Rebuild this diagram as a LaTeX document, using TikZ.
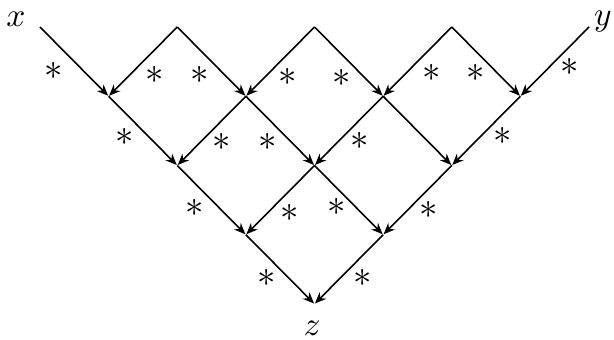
\documentclass[tikz,border=0pt]{standalone}
\usetikzlibrary{arrows.meta}
\begin{document}
\begin{tikzpicture}[x=0.3pt,y=-0.3pt,
  edge/.style={-{Stealth[length=3.4pt,width=2.8pt]}, line width=0.48pt, shorten >=0.2pt},
  lbl/.style={inner sep=0pt},
  st/.style={inner sep=0pt, scale=1.1}]
\useasboundingbox (0,0) rectangle (614,339);
\foreach \i/\j in {0/0,2/0,4/0,6/0,8/0,1/1,3/1,5/1,7/1,2/2,4/2,6/2,3/3,5/3,4/4}
  \coordinate (v\i\j) at ({40+68.625*\i},{27+69.25*\j});
% labels
\node[lbl] (lx) at (16,19) {$x$};
\node[lbl] (ly) at (603,22) {$y$};
\node[lbl] (lz) at (312,328) {$z$};
% row 0 -> 1
\draw[edge] (v00) -- (v11);
\draw[edge] (v20) -- (v11);
\draw[edge] (v20) -- (v31);
\draw[edge] (v40) -- (v31);
\draw[edge] (v40) -- (v51);
\draw[edge] (v60) -- (v51);
\draw[edge] (v60) -- (v71);
\draw[edge] (v80) -- (v71);
% row 1 -> 2
\draw[edge] (v11) -- (v22);
\draw[edge] (v31) -- (v22);
\draw[edge] (v31) -- (v42);
\draw[edge] (v51) -- (v42);
\draw[edge] (v51) -- (v62);
\draw[edge] (v71) -- (v62);
% row 2 -> 3
\draw[edge] (v22) -- (v33);
\draw[edge] (v42) -- (v33);
\draw[edge] (v42) -- (v53);
\draw[edge] (v62) -- (v53);
% row 3 -> 4
\draw[edge] (v33) -- (v44);
\draw[edge] (v53) -- (v44);
% stars
\node[st] (s1) at (54,71) {$*$};
\node[st] (s2) at (155,75) {$*$};
\node[st] (s3) at (200,75) {$*$};
\node[st] (s4) at (288,77) {$*$};
\node[st] (s5) at (342,78) {$*$};
\node[st] (s6) at (432,73) {$*$};
\node[st] (s7) at (476,73) {$*$};
\node[st] (s8) at (570,67) {$*$};
\node[st] (s9) at (125,137) {$*$};
\node[st] (s10) at (222,142) {$*$};
\node[st] (s11) at (268,142) {$*$};
\node[st] (s12) at (360,141) {$*$};
\node[st] (s13) at (503,136) {$*$};
\node[st] (s14) at (195,208) {$*$};
\node[st] (s15) at (290,213) {$*$};
\node[st] (s16) at (337,207) {$*$};
\node[st] (s17) at (429,210) {$*$};
\node[st] (s18) at (267,278) {$*$};
\node[st] (s19) at (363,278) {$*$};
\end{tikzpicture}
\end{document}
